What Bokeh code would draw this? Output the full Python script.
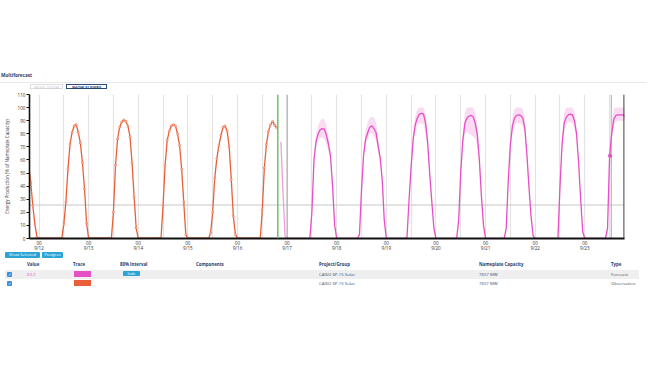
from bokeh.plotting import figure
from bokeh.models import Range1d, FixedTicker, Span, Div
from bokeh.layouts import column
from bokeh.embed import file_html
from bokeh.resources import INLINE

# ---------------- data ----------------
TITLE = "Multiforecast"
DAY_LABELS = ["9/12", "9/13", "9/14", "9/15", "9/16", "9/17",
              "9/18", "9/19", "9/20", "9/21", "9/22", "9/23"]
HOUR_LABEL = "00"
Y_TICKS = [0, 10, 20, 30, 40, 50, 60, 70, 80, 90, 100, 110]
Y_LABEL = "Energy Production (% of Nameplate Capacity)"
THRESHOLD = 25.6           # horizontal reference line
NOW_HOUR = 115.5           # green "now" line (hours from 9/12 00:00)
ISSUE_HOUR = 120           # forecast issue line (9/17 00:00)
HOVER_HOUR = 276.8
HOVER_VALUE = 63.2

# observations, hourly, starting 9/11 19:00 (hour -5 from 9/12 00:00)
obs_start = -5
obs_0911 = [56, 43, 25, 11, 1]
obs_0912 = [0, 0, 0, 0, 0, 0, 0, 0, 0, 0, 0, 0, 11, 28, 53, 72, 81, 86, 87, 81, 73, 58, 38, 12]
obs_0913 = [0, 0, 0, 0, 0, 0, 0, 0, 0, 0, 0, 0, 20, 56, 76, 85, 89, 90.5, 89.5, 86, 78, 58, 32, 8]
obs_0914 = [0, 0, 0, 0, 0, 0, 0, 0, 0, 0, 0, 0, 25, 56, 75, 82, 86, 87, 86, 80, 71, 53, 28, 3]
obs_0915 = [0, 0, 0, 0, 0, 0, 0, 0, 0, 0, 0, 4, 20, 46, 61, 71, 79, 85, 86, 82, 70, 45, 17, 3]
obs_0916 = [0, 0, 0, 0, 0, 0, 0, 0, 0, 0, 0, 0, 22, 54, 72, 82, 87, 89.5, 86.5, 84.5]

# forecast, hourly, starting 9/16 21:00 (hour 117)
fc_start = 117
fc_0916 = [74, 36, 2]
fc_0917 = [0, 0, 0, 0, 0, 0, 0, 0, 0, 0, 0, 0, 20, 60, 74, 80, 83, 84, 83.5, 79, 72, 63, 40, 10]
fc_0918 = [0, 0, 0, 0, 0, 0, 0, 0, 0, 0, 0, 3, 37, 64, 76, 81, 85, 86, 84, 81, 71, 62, 45, 14]
fc_0919 = [0, 0, 0, 0, 0, 0, 0, 0, 0, 0, 1, 30, 55, 76, 87, 92, 95, 95.5, 95, 88, 73, 49, 28, 8]
fc_0920 = [0, 0, 0, 0, 0, 0, 0, 0, 0, 0, 0, 14, 51, 75, 88, 92, 93.5, 94, 93, 88, 79.5, 60, 32, 10]
fc_0921 = [0, 0, 0, 0, 0, 0, 0, 0, 0, 0, 8, 45, 72, 86, 92, 94, 94.5, 94, 92, 84, 64, 39, 17, 2]
fc_0922 = [0, 0, 0, 0, 0, 0, 0, 0, 0, 0, 0, 0, 40, 72, 88, 92.5, 94.5, 95, 94.5, 90, 80, 58, 30, 5]
fc_0923 = [0, 0, 0, 0, 0, 0, 0, 0, 0, 0, 0, 8, 63.2, 80, 91, 94, 94.5, 94.5, 94.5, 94, 93]

# 80% interval, hours 12..22 of each forecast day (9/17 .. 9/23)
band_hi = [
    [21, 62, 79, 86, 90, 91.5, 91, 87, 78, 66, 41],
    [38, 67, 83, 89, 92, 93, 92.5, 89, 77, 65, 46],
    [57, 81, 94, 99, 100, 100, 100, 95, 78, 52, 29],
    [53, 80, 96, 100, 100, 100, 100, 96, 86, 64, 33],
    [74, 93, 99, 100, 100, 100, 99, 92, 68, 41, 18],
    [42, 77, 96, 100, 100, 100, 100, 97, 84, 60, 31],
    [66, 88, 99, 100, 100, 100, 100, 100, 100],
]
band_lo = [
    [19, 58, 70, 75, 77, 77, 76, 72, 66, 60, 39],
    [36, 61, 71, 76, 80, 80, 78, 75, 66, 59, 44],
    [53, 72, 81, 86, 88, 88, 87, 80, 67, 46, 27],
    [49, 70, 80, 82, 80, 79, 78, 76, 70, 55, 31],
    [70, 80, 86, 88, 88, 88, 86, 78, 60, 37, 16],
    [38, 67, 82, 87, 89, 89, 88, 84, 75, 55, 29],
    [60, 74, 86, 89, 90, 90, 90, 90, 90],
]

TABLE_BUTTONS = ["Show Selected", "Postgres"]
TABLE_HEADERS = ["Value", "Trace", "80% Interval", "Components",
                 "Project/Group", "Nameplate Capacity", "Type"]
ROW_VALUES = ["63.2", ""]
ROW_PROJECTS = ["CAISO SP-15 Solar", "CAISO SP-15 Solar"]
ROW_CAPACITY = ["7657 MW", "7657 MW"]
ROW_TYPES = ["Forecast", "Observation"]

FC_COLOR = "#e64fc6"
FC_LIGHT = "#f29be0"
OBS_COLOR = "#e8603a"
BAND_COLOR = "#f6c4ea"
FONT = "Open Sans"

# ---------------- series assembly ----------------
obs = obs_0911 + obs_0912 + obs_0913 + obs_0914 + obs_0915 + obs_0916
obs_x = list(range(obs_start, obs_start + len(obs)))

fc = fc_0916 + fc_0917 + fc_0918 + fc_0919 + fc_0920 + fc_0921 + fc_0922 + fc_0923
fc_x = list(range(fc_start, fc_start + len(fc)))
fc_hi = list(fc)
fc_lo = list(fc)
for k in range(len(band_hi)):
    first = ISSUE_HOUR + 24 * k + 12 - fc_start
    for j in range(len(band_hi[k])):
        fc_hi[first + j] = band_hi[k][j]
        fc_lo[first + j] = band_lo[k][j]

# ---------------- figure ----------------
p = figure(frame_width=595, frame_height=144,
           x_range=Range1d(-4.6, 283.2), y_range=Range1d(0, 110),
           output_backend="svg", toolbar_location=None,
           min_border_left=24, min_border_right=8,
           min_border_top=2, min_border_bottom=12)
p.outline_line_color = None
p.background_fill_color = "white"
p.border_fill_color = "white"

p.xgrid.ticker = FixedTicker(ticks=list(range(0, 284, 12)))
p.xgrid.grid_line_color = "#e3e3e3"
p.xgrid.grid_line_width = 1.2
p.ygrid.grid_line_color = None

tick_hours = [24 * i for i in range(len(DAY_LABELS))]
p.xaxis.ticker = FixedTicker(ticks=tick_hours)
p.xaxis.major_label_overrides = {h: HOUR_LABEL + "\n" + d for h, d in zip(tick_hours, DAY_LABELS)}
p.xaxis.major_tick_line_color = None
p.xaxis.major_tick_out = 0
p.xaxis.major_tick_in = 0
p.xaxis.minor_tick_line_color = None
p.xaxis.axis_line_color = "#111111"
p.xaxis.axis_line_width = 2
p.xaxis.major_label_standoff = 1
p.xaxis.major_label_text_line_height = 0.95

p.yaxis.ticker = FixedTicker(ticks=Y_TICKS)
p.yaxis.minor_tick_line_color = None
p.yaxis.major_tick_out = 3
p.yaxis.major_tick_in = 0
p.yaxis.major_tick_line_color = "#111111"
p.yaxis.axis_line_color = "#111111"
p.yaxis.axis_line_width = 1.6
p.yaxis.major_label_standoff = 1
p.yaxis.axis_label = Y_LABEL
p.yaxis.axis_label_text_font_size = "4.5px"
p.yaxis.axis_label_text_font_style = "normal"
p.yaxis.axis_label_text_color = "#333333"
p.yaxis.axis_label_text_font = FONT
p.yaxis.axis_label_standoff = 5

p.axis.major_label_text_font = FONT
p.axis.major_label_text_font_size = "4.6px"
p.axis.major_label_text_color = "#333333"

p.add_layout(Span(location=THRESHOLD, dimension="width", line_color="#c8c8c8",
                  line_width=1.2, level="underlay"))
p.add_layout(Span(location=ISSUE_HOUR, dimension="height", line_color="#a9a9a9",
                  line_width=1.1, level="underlay"))
p.add_layout(Span(location=HOVER_HOUR, dimension="height", line_color="#a9a9a9",
                  line_width=1.0, level="underlay"))
p.add_layout(Span(location=NOW_HOUR, dimension="height", line_color="#6cc06a",
                  line_width=1.5))
p.add_layout(Span(location=283.0, dimension="height", line_color="#333333",
                  line_width=1.3))

p.varea(x=fc_x, y1=fc_lo, y2=fc_hi, fill_color=BAND_COLOR, fill_alpha=0.6)
p.line(fc_x[:4], fc[:4], line_color=FC_LIGHT, line_width=1.3)
p.line(fc_x[3:], fc[3:], line_color=FC_COLOR, line_width=1.3)
p.line(obs_x, obs, line_color=OBS_COLOR, line_width=1.3)
p.scatter(obs_x, obs, size=2.1, line_color=OBS_COLOR, fill_color="white",
          fill_alpha=0.7, line_width=0.6)
p.scatter([HOVER_HOUR - 0.6], [HOVER_VALUE], size=3.2, color=FC_COLOR)

# ---------------- html parts ----------------
top_html = f"""
<div style="position:relative;width:634px;height:82px;font-family:'Open Sans',sans-serif;">
 <div style="position:absolute;left:-4px;top:68px;font-size:4.6px;font-weight:700;color:#1f3d6d;line-height:5px;white-space:nowrap;">{TITLE}</div>
 <div style="position:absolute;left:-8px;top:76.5px;width:650px;height:1px;background:#e9e9e9;"></div>
 <div style="position:absolute;left:25px;top:79px;width:33px;height:5px;border:1px solid #dedede;color:#c4c4c4;font-size:4px;line-height:5px;text-align:center;white-space:nowrap;">RESET ZOOM</div>
 <div style="position:absolute;left:61px;top:79px;width:41px;height:5px;border:1px solid #2c4b78;color:#1f3d6d;font-weight:700;font-size:4px;line-height:5px;text-align:center;white-space:nowrap;">SHOW SLIDERS</div>
</div>"""

def cell(left, top, text, color="#33507a", weight=400, size=4.3):
    return (f'<div style="position:absolute;left:{left}px;top:{top}px;font-size:{size}px;'
            f'line-height:5px;color:{color};font-weight:{weight};white-space:nowrap;">{text}</div>')

def btn(left, top, width, text, height=6):
    return (f'<div style="position:absolute;left:{left}px;top:{top}px;width:{width}px;height:{height}px;'
            f'background:#2aa3d5;border-radius:1px;color:white;font-size:4px;line-height:{height}px;'
            f'text-align:center;white-space:nowrap;">{text}</div>')

def checkbox(left, top):
    return (f'<div style="position:absolute;left:{left}px;top:{top}px;width:5px;height:5px;'
            f'background:#3a8ee0;border-radius:1px;color:white;font-size:4px;line-height:5px;'
            f'text-align:center;">&#10003;</div>')

SHIFT = -8.5  # pull the table block up under the axis labels
col_left = [22, 68, 115, 191, 314, 474, 606]
parts = [btn(0, 1 + SHIFT, 35, TABLE_BUTTONS[0]), btn(37, 1 + SHIFT, 21, TABLE_BUTTONS[1])]
for left, h in zip(col_left, TABLE_HEADERS):
    parts.append(cell(left, 11.5 + SHIFT, h, color="#1f3d6d", weight=700, size=4.4))
row_tops = [19 + SHIFT, 28 + SHIFT]
swatches = [FC_COLOR, OBS_COLOR]
parts.append(f'<div style="position:absolute;left:0px;top:{row_tops[0]}px;width:634px;height:9px;background:#efefef;"></div>')
for i, rt in enumerate(row_tops):
    parts.append(checkbox(2, rt + 2))
    parts.append(cell(col_left[0], rt + 2, ROW_VALUES[i], color=FC_COLOR))
    parts.append(f'<div style="position:absolute;left:69px;top:{rt + 1.5}px;width:17px;height:6px;background:{swatches[i]};"></div>')
    parts.append(cell(col_left[4], rt + 2, ROW_PROJECTS[i]))
    parts.append(cell(col_left[5], rt + 2, ROW_CAPACITY[i]))
    parts.append(cell(col_left[6], rt + 2, ROW_TYPES[i], color="#555555"))
parts.append(btn(118, row_tops[0] + 1.5, 17, "hide", height=5))

bottom_html = ('<div style="position:relative;width:634px;height:34px;font-family:\'Open Sans\',sans-serif;">'
               + "".join(parts) + "</div>")

top_div = Div(text=top_html, width=634, height=82)
bottom_div = Div(text=bottom_html, width=634, height=34)

layout = column(top_div, p, bottom_div, spacing=0)
open("out.html", "w").write(file_html(layout, INLINE))
